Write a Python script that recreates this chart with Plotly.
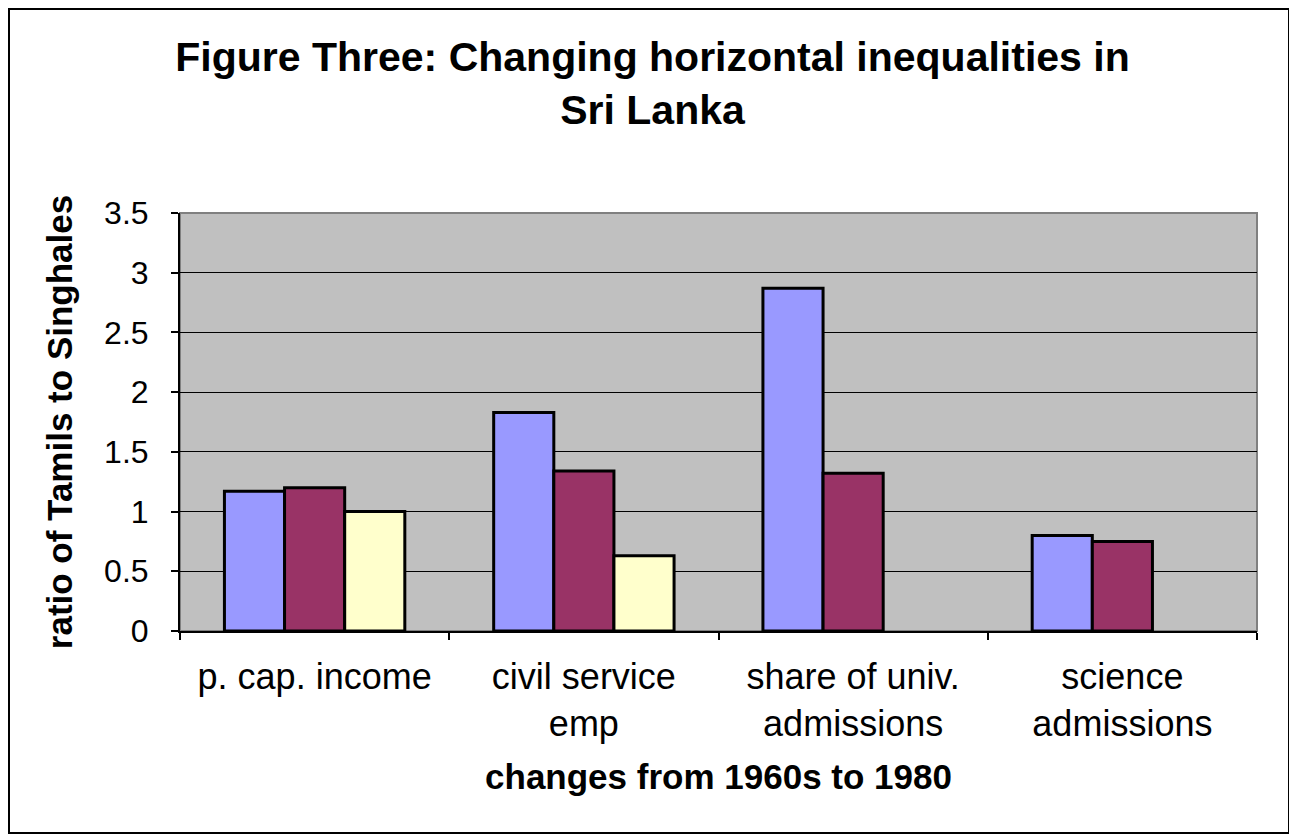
import plotly.graph_objects as go

categories = ["p. cap. income", "civil service<br>emp", "share of univ.<br>admissions", "science<br>admissions"]
series_names = ["Series 1", "Series 2", "Series 3"]
series_1 = [1.17, 1.83, 2.87, 0.80]
series_2 = [1.20, 1.34, 1.32, 0.75]
series_3 = [1.00, 0.63, None, None]
colors = ["#9999FF", "#993366", "#FFFFCC"]
y_ticks = [0, 0.5, 1, 1.5, 2, 2.5, 3, 3.5]
y_tick_labels = ["0", "0.5", "1", "1.5", "2", "2.5", "3", "3.5"]

FONT = "Liberation Sans, Arial, sans-serif"

fig = go.Figure()
for name, vals, col in zip(series_names, [series_1, series_2, series_3], colors):
    fig.add_trace(go.Bar(
        x=categories, y=vals, name=name,
        marker=dict(color=col, line=dict(color="black", width=3)),
        showlegend=False,
    ))

# page body adds an 8px offset; figure coords = reference coords - 8
OFF = 8
W, H = 1297 - OFF, 839 - OFF
L, T = 180 - OFF, 213 - OFF
R = W - (1257 - OFF)
B = H - (631 - OFF)
pw, ph = W - L - R, H - T - B

def px_x(rx):
    return (rx - OFF - L) / pw

def px_y(ry):
    return (H - B - (ry - OFF)) / ph

fig.update_layout(
    width=W, height=H,
    margin=dict(l=L, r=R, t=T, b=B, autoexpand=False),
    paper_bgcolor="white",
    plot_bgcolor="#C0C0C0",
    barmode="group",
    bargap=0.33,
    bargroupgap=0,
    font=dict(family=FONT, color="black"),
    title=dict(
        text="<b>Figure Three: Changing horizontal inequalities in<br>Sri Lanka</b>",
        x=0.5, xref="container", xanchor="center",
        y=1 - 63 / H, yref="container", yanchor="middle",
        font=dict(family=FONT, size=41, color="black"),
    ),
    xaxis=dict(
        type="category",
        showline=True, linecolor="black", linewidth=2,
        ticks="outside", tickson="boundaries", ticklen=7, tickcolor="black", tickwidth=1.5,
        tickfont=dict(family=FONT, size=36, color="black"),
        ticklabelstandoff=13,
        showgrid=False,
        title=dict(text="<b>changes from 1960s to 1980</b>", font=dict(family=FONT, size=35, color="black"), standoff=21),
    ),
    yaxis=dict(
        range=[0, 3.5],
        tickvals=y_ticks, ticktext=y_tick_labels,
        showline=True, linecolor="black", linewidth=2,
        ticks="outside", ticklen=7, tickcolor="black", tickwidth=1.5,
        tickfont=dict(family=FONT, size=32, color="black"),
        ticklabelstandoff=16,
        showgrid=True, gridcolor="black", gridwidth=1.2,
        zeroline=False,
        title=dict(text="<b>ratio of Tamils to Singhales</b>", font=dict(family=FONT, size=35, color="black"), standoff=21),
    ),
    shapes=[
        dict(type="rect", xref="paper", yref="paper", x0=0, x1=1, y0=0, y1=1,
             line=dict(color="#808080", width=2), layer="below"),
        dict(type="rect", xref="paper", yref="paper",
             x0=px_x(9), x1=px_x(1289),
             y0=px_y(833), y1=px_y(9),
             line=dict(color="black", width=2)),
    ],
)

fig.write_html("out.html")
